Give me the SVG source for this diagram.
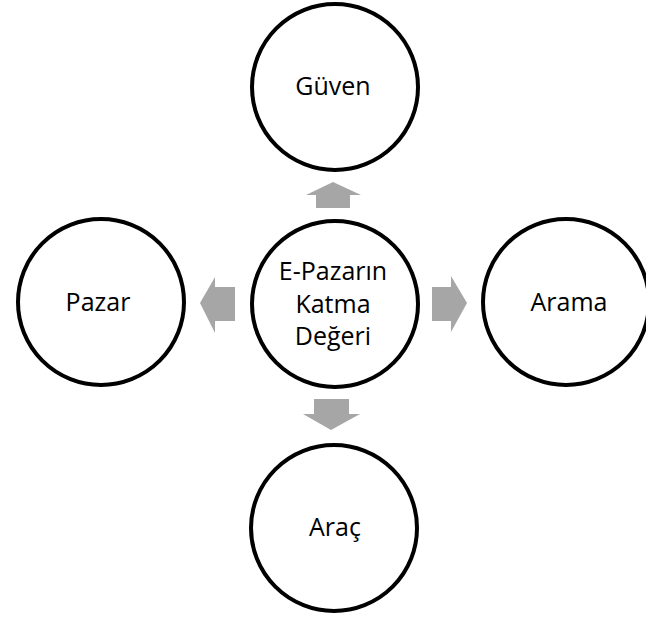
<svg xmlns="http://www.w3.org/2000/svg" width="646" height="618" viewBox="0 0 646 618">
<style>
.node circle{fill:#fff;stroke:#000;stroke-width:4}
.node text{font-family:"Open Sans","Liberation Sans",sans-serif;font-size:25px;fill:#000;text-anchor:middle}
.arrow{fill:#a6a6a6;stroke:none}
</style>
<rect width="646" height="618" fill="#fff"/>
<g id="connectors">
<polygon class="arrow" points="333,182 361,195 350,195 350,208 316,208 316,195 306,195"/>
<polygon class="arrow" points="331,430 360,414 349,414 349,399 314,399 314,414 303,414"/>
<polygon class="arrow" points="200,303 215,277 215,287 235,287 235,321 215,321 215,333"/>
<polygon class="arrow" points="467,303 451,276 451,287 432,287 432,321 451,321 451,332"/>
</g>
<g id="node-guven" class="node">
<circle cx="335" cy="87" r="83"/>
<text x="333" y="95">Güven</text>
</g>
<g id="node-center" class="node">
<circle cx="335" cy="304" r="83"/>
<text x="333" y="280">E-Pazarın</text>
<text x="333" y="313">Katma</text>
<text x="333" y="345">Değeri</text>
</g>
<g id="node-pazar" class="node">
<circle cx="101" cy="302" r="83"/>
<text x="98" y="311">Pazar</text>
</g>
<g id="node-arama" class="node">
<circle cx="566" cy="302" r="83"/>
<text x="569" y="311">Arama</text>
</g>
<g id="node-arac" class="node">
<circle cx="334" cy="528" r="83"/>
<text x="335" y="536">Araç</text>
</g>
</svg>
